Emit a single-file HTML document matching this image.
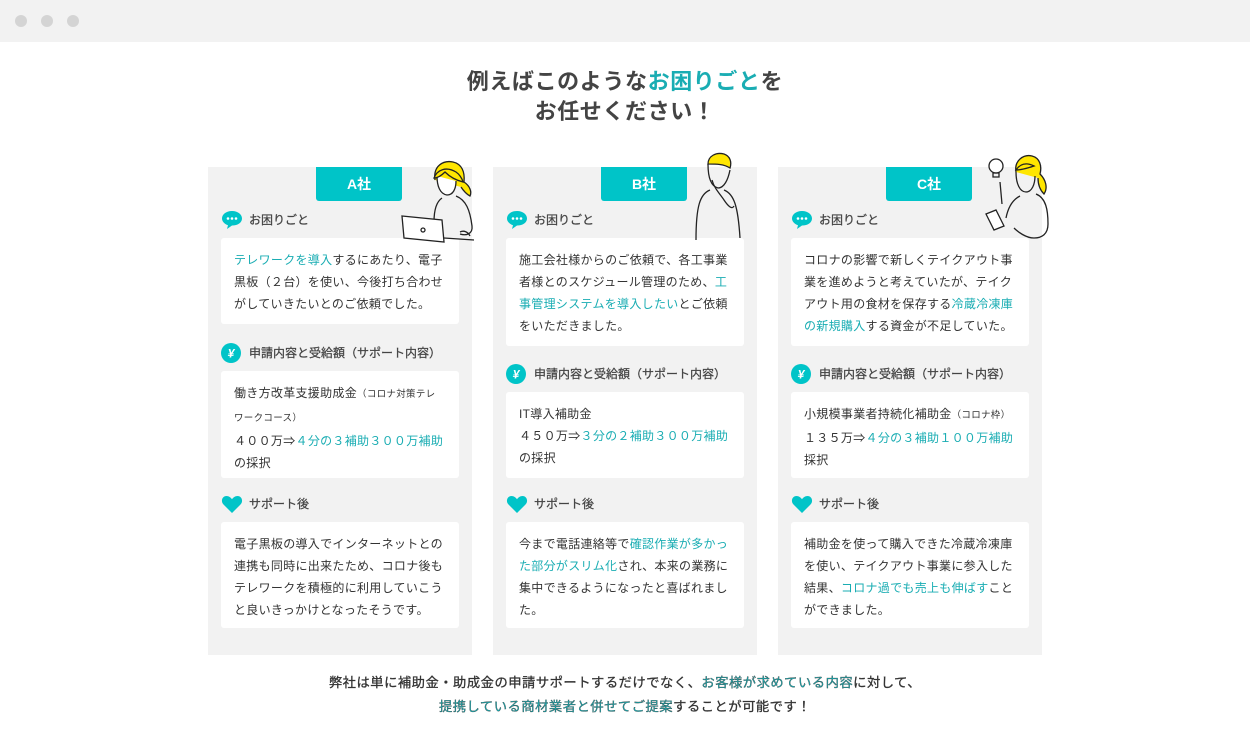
<!DOCTYPE html>
<html><head><meta charset="utf-8"><style>
*{margin:0;padding:0;box-sizing:border-box}
body{width:1250px;height:744px;background:#fff;position:relative;overflow:hidden;font-family:"Liberation Sans","Noto Sans CJK JP",sans-serif;color:#333}
.bar{position:absolute;left:0;top:0;width:1250px;height:42px;background:#f2f2f2}
.dot{position:absolute;top:15px;width:12px;height:12px;border-radius:50%;background:#d4d4d4}
.t{color:#1aadb3}
.title{position:absolute;left:0;width:1250px;text-align:center;font-size:22px;font-weight:bold;color:#444;line-height:30px;top:67px;letter-spacing:0.6px}
.card{position:absolute;top:167px;width:264px;height:488px;background:#f2f2f2}
.tab{position:absolute;top:0;left:108px;width:86px;height:34px;background:#00c4c8;color:#fff;font-weight:bold;font-size:14px;text-align:center;line-height:34px;border-radius:0 0 3px 3px}
.lbl{position:absolute;left:13px;font-size:12px;color:#444;height:22px;line-height:22px;padding-left:28px;-webkit-text-stroke:0.25px #444}
.lbl i{position:absolute;left:0;top:1px;width:22px;height:20px}
.box{position:absolute;left:13px;width:238px;background:#fff;border-radius:3px;padding:11px 0 0 13px;font-size:12px;line-height:22px;color:#333;letter-spacing:0.3px;white-space:nowrap}
.sm{font-size:9.5px}
.foot{position:absolute;left:0;width:1250px;text-align:center;font-size:13.3px;line-height:24px;top:671px;color:#333;letter-spacing:0.5px;-webkit-text-stroke:0.3px #333}
svg.p{position:absolute}
</style></head><body>
<div class="bar"><div class="dot" style="left:15px"></div><div class="dot" style="left:41px"></div><div class="dot" style="left:67px"></div></div>
<div class="title">例えばこのような<span class="t">お困りごと</span>を<br>お任せください！</div>

<svg width="0" height="0" style="position:absolute"><defs>
<symbol id="bub" viewBox="0 0 22 20"><path d="M11 1C5 1 1 4.5 1 8.5c0 3 2.5 5.5 6 6.8L6 19l5-3.5C17 15.5 21 12.5 21 8.5 21 4.5 17 1 11 1z" fill="#00c4c8"/><circle cx="7" cy="8.5" r="1.3" fill="#fff"/><circle cx="11" cy="8.5" r="1.3" fill="#fff"/><circle cx="15" cy="8.5" r="1.3" fill="#fff"/></symbol>
<symbol id="yen" viewBox="0 0 22 20"><circle cx="10" cy="10" r="10" fill="#00c4c8"/><text x="10" y="14.5" font-size="12" font-weight="bold" fill="#fff" text-anchor="middle" font-family="Liberation Sans">¥</text></symbol>
<symbol id="hrt" viewBox="0 0 22 20"><path d="M11 19L2.5 10.5C-0.5 7.5 1 2 5.5 2c2.5 0 4.3 1.5 5.5 3.2C12.2 3.5 14 2 16.5 2 21 2 22.5 7.5 19.5 10.5z" fill="#00c4c8"/></symbol>
</defs></svg>

<!-- A -->
<div class="card" style="left:208px">
<div class="tab">A社</div>
<div class="lbl" style="top:42px"><i><svg width="22" height="20"><use href="#bub"/></svg></i>お困りごと</div>
<div class="box" style="top:71px;height:86px"><span class="t">テレワークを導入</span>するにあたり、電子<br>黒板（２台）を使い、今後打ち合わせ<br>がしていきたいとのご依頼でした。</div>
<div class="lbl" style="top:175px"><i><svg width="22" height="20"><use href="#yen"/></svg></i>申請内容と受給額（サポート内容）</div>
<div class="box" style="top:204px;height:107px">働き方改革支援助成金<span class="sm">（コロナ対策テレ</span><br><span class="sm">ワークコース）</span><br>４００万⇒<span class="t">４分の３補助３００万補助</span><br>の採択</div>
<div class="lbl" style="top:326px"><i><svg width="22" height="20"><use href="#hrt"/></svg></i>サポート後</div>
<div class="box" style="top:355px;height:106px">電子黒板の導入でインターネットとの<br>連携も同時に出来たため、コロナ後も<br>テレワークを積極的に利用していこう<br>と良いきっかけとなったそうです。</div>
</div>

<!-- B -->
<div class="card" style="left:493px">
<div class="tab">B社</div>
<div class="lbl" style="top:42px"><i><svg width="22" height="20"><use href="#bub"/></svg></i>お困りごと</div>
<div class="box" style="top:71px;height:108px">施工会社様からのご依頼で、各工事業<br>者様とのスケジュール管理のため、<span class="t">工</span><br><span class="t">事管理システムを導入したい</span>とご依頼<br>をいただきました。</div>
<div class="lbl" style="top:196px"><i><svg width="22" height="20"><use href="#yen"/></svg></i>申請内容と受給額（サポート内容）</div>
<div class="box" style="top:225px;height:86px">IT導入補助金<br>４５０万⇒<span class="t">３分の２補助３００万補助</span><br>の採択</div>
<div class="lbl" style="top:326px"><i><svg width="22" height="20"><use href="#hrt"/></svg></i>サポート後</div>
<div class="box" style="top:355px;height:106px">今まで電話連絡等で<span class="t">確認作業が多かっ</span><br><span class="t">た部分がスリム化</span>され、本来の業務に<br>集中できるようになったと喜ばれまし<br>た。</div>
</div>

<!-- C -->
<div class="card" style="left:778px">
<div class="tab">C社</div>
<div class="lbl" style="top:42px"><i><svg width="22" height="20"><use href="#bub"/></svg></i>お困りごと</div>
<div class="box" style="top:71px;height:108px">コロナの影響で新しくテイクアウト事<br>業を進めようと考えていたが、テイク<br>アウト用の食材を保存する<span class="t">冷蔵冷凍庫</span><br><span class="t">の新規購入</span>する資金が不足していた。</div>
<div class="lbl" style="top:196px"><i><svg width="22" height="20"><use href="#yen"/></svg></i>申請内容と受給額（サポート内容）</div>
<div class="box" style="top:225px;height:86px">小規模事業者持続化補助金<span class="sm">（コロナ枠）</span><br>１３５万⇒<span class="t">４分の３補助１００万補助</span><br>採択</div>
<div class="lbl" style="top:326px"><i><svg width="22" height="20"><use href="#hrt"/></svg></i>サポート後</div>
<div class="box" style="top:355px;height:106px">補助金を使って購入できた冷蔵冷凍庫<br>を使い、テイクアウト事業に参入した<br>結果、<span class="t">コロナ過でも売上も伸ばす</span>こと<br>ができました。</div>
</div>

<!-- figures -->
<svg class="p" style="left:398px;top:158px" width="90" height="86" fill="none" stroke="#222" stroke-width="1.3">
<path d="M37 22c-2-14 8-20 18-18 9 2 12 10 11 20 6 4 8 10 6 14-4-2-7-6-9-9" fill="#ffe600"/>
<path d="M39 18c0 10 3 18 10 19 6 0 9-6 9-14" fill="#fff"/>
<path d="M36 20c3-8 12-12 22-6 3 2 6 6 7 10-8-2-14-6-18-10-4 4-8 6-11 6z" fill="#ffe600"/>
<path d="M44 40c-6 4-8 14-8 24M58 38c10 4 14 14 16 30 1 8-6 10-12 8"/>
<path d="M4 58l40 4 2 22-40-4z" fill="#fff"/><circle cx="25" cy="72" r="2"/>
<path d="M46 80l30 2M62 74c4-2 8 0 10 4"/>
</svg>
<svg class="p" style="left:690px;top:152px" width="60" height="90" fill="none" stroke="#222" stroke-width="1.3">
<path d="M18 12c0-8 8-12 16-10 6 2 8 8 6 14-6-4-14-4-22-4z" fill="#ffe600"/>
<path d="M18 12c0 12 2 22 10 24 6 0 10-8 12-18"/>
<path d="M20 38c-10 4-14 16-14 50M34 38c10 4 14 16 16 48M22 28c2 8 8 14 12 20 4 6 8 10 10 6"/>
</svg>
<svg class="p" style="left:982px;top:152px" width="70" height="92" fill="none" stroke="#222" stroke-width="1.3">
<circle cx="14" cy="14" r="7" fill="#fff"/><path d="M11 21h6v4h-6z"/>
<path d="M34 20c-2-12 8-18 16-16 8 2 10 10 8 18 6 6 8 14 4 20-4-4-6-10-6-16" fill="#ffe600"/>
<path d="M34 20c0 12 4 20 10 20s9-8 9-16"/>
<path d="M34 18c4-6 10-8 18-4-6 2-12 4-18 4z" fill="#ffe600"/>
<path d="M38 44c-8 4-12 12-14 22M54 42c10 4 12 16 12 30 0 10-6 14-14 14-8 0-16-6-20-10"/>
<path d="M4 62l10-4 8 16-10 4z" fill="#fff"/><path d="M18 30l2 22"/>
</svg>

<div class="foot">弊社は単に補助金・助成金の申請サポートするだけでなく、<span class="t">お客様が求めている内容</span>に対して、<br><span class="t">提携している商材業者と併せてご提案</span>することが可能です！</div>
</body></html>
